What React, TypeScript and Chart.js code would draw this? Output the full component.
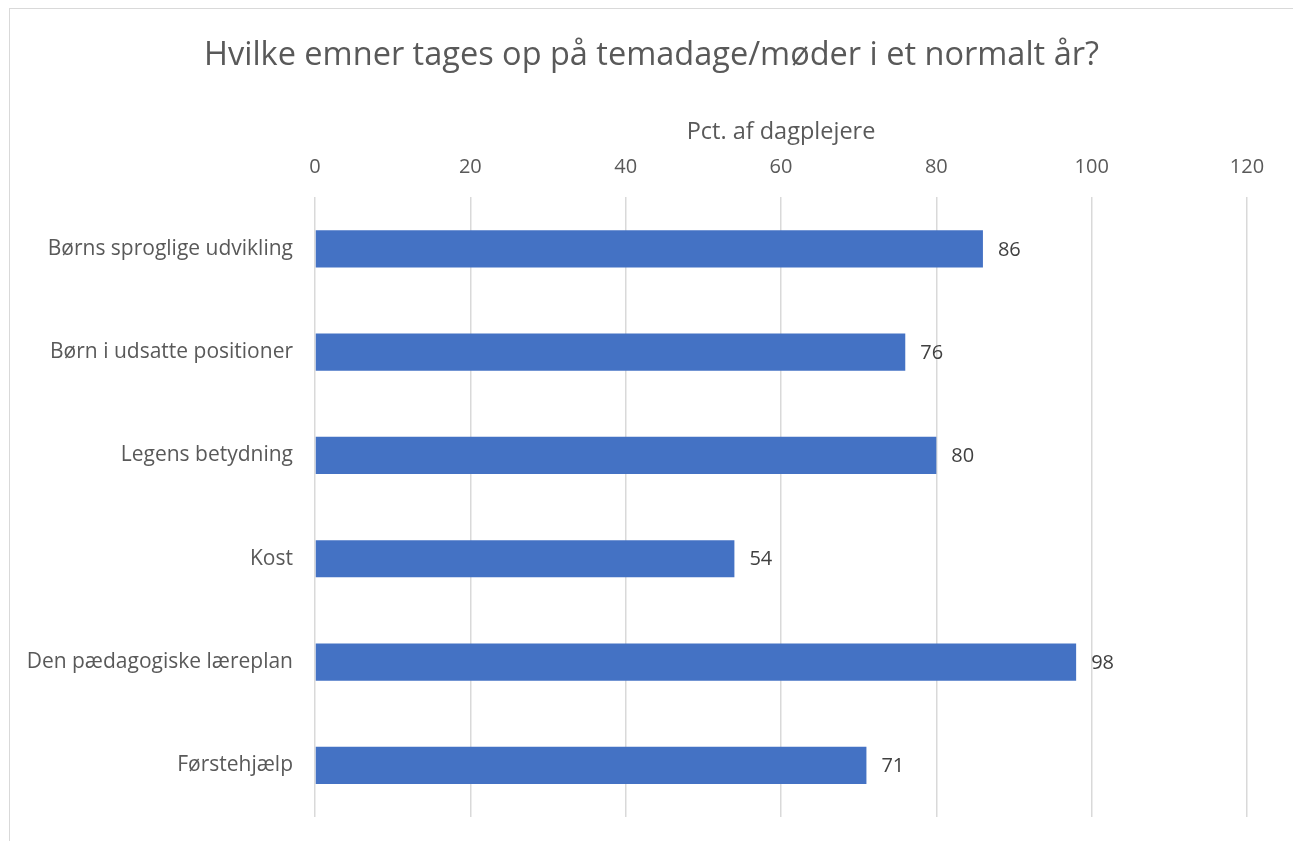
import React, { useEffect, useRef } from "react";
import { Chart, registerables } from "chart.js";

Chart.register(...registerables);

const TITLE = "Hvilke emner tages op på temadage/møder i et normalt år?";
const AXIS_TITLE = "Pct. af dagplejere";
const categories = [
  "Børns sproglige udvikling",
  "Børn i udsatte positioner",
  "Legens betydning",
  "Kost",
  "Den pædagogiske læreplan",
  "Førstehjælp",
];
const values = [86, 76, 80, 54, 98, 71];
const xMin = 0;
const xMax = 120;
const xStep = 20;

const FONT = "'Open Sans', 'Noto Sans', sans-serif";
const TEXT = "#595959";
const BAR = "#4472C4";

const valueLabels = {
  id: "valueLabels",
  afterDatasetsDraw(chart: any) {
    const ctx = chart.ctx;
    const meta = chart.getDatasetMeta(0);
    ctx.save();
    ctx.font = `20px ${FONT}`;
    ctx.fillStyle = "#404040";
    ctx.textAlign = "left";
    ctx.textBaseline = "middle";
    meta.data.forEach((bar: any, i: number) => {
      ctx.fillText(String(values[i]), bar.x + 15, bar.y + 1);
    });
    ctx.restore();
  },
};

export default function App() {
  const ref = useRef<HTMLCanvasElement>(null);
  useEffect(() => {
    document.body.style.margin = "0";
    document.body.style.overflow = "hidden";
    const chart = new Chart(ref.current!, {
      type: "bar",
      data: {
        labels: categories,
        datasets: [
          {
            data: values,
            backgroundColor: BAR,
            barPercentage: 0.72,
            categoryPercentage: 0.5,
          },
        ],
      },
      options: {
        indexAxis: "y",
        animation: false,
        responsive: false,
        maintainAspectRatio: false,
        layout: { padding: { left: 0, right: 0, top: 8, bottom: 0 } },
        plugins: {
          legend: { display: false },
          tooltip: { enabled: false },
          title: {
            display: true,
            text: TITLE,
            color: TEXT,
            font: { family: FONT, size: 32.5, weight: "normal" },
            padding: { top: 19, bottom: 28 },
          },
        },
        scales: {
          x: {
            position: "top",
            min: xMin,
            max: xMax,
            ticks: {
              stepSize: xStep,
              color: TEXT,
              font: { family: FONT, size: 20 },
              padding: 18,
            },
            grid: { color: "#d9d9d9", lineWidth: 1.5, drawTicks: false },
            border: { display: false },
            title: {
              display: true,
              text: AXIS_TITLE,
              color: TEXT,
              font: { family: FONT, size: 23.5 },
              padding: { top: 15, bottom: 10 },
            },
            afterFit(scale: any) {
              scale.height -= 19;
              scale.paddingLeft = 0;
              scale.paddingRight = 46;
            },
          },
          y: {
            ticks: {
              color: TEXT,
              font: { family: FONT, size: 21 },
              padding: 22,
            },
            grid: { display: false, drawTicks: false },
            border: { display: false },
            afterFit(scale: any) {
              scale.width = 305;
              scale.paddingTop = 0;
              scale.paddingBottom = 24;
            },
          },
        },
      },
      plugins: [valueLabels],
    });
    return () => chart.destroy();
  }, []);
  return (
    <div
      style={{
        position: "absolute",
        left: 9,
        top: 8,
        width: 1284,
        height: 833,
        borderLeft: "1px solid #d9d9d9",
        borderTop: "1px solid #d9d9d9",
        background: "#fff",
      }}
    >
      <canvas ref={ref} width={1283} height={832} style={{ display: "block" }} />
    </div>
  );
}
